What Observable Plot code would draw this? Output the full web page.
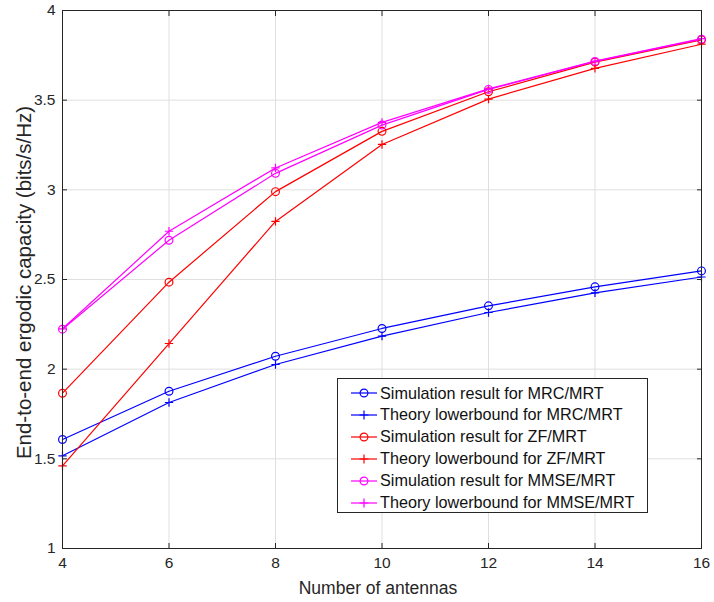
<!DOCTYPE html>
<html><head><meta charset="utf-8">
<script src="https://cdn.jsdelivr.net/npm/d3@7"></script>
<script src="https://cdn.jsdelivr.net/npm/@observablehq/plot@0.6"></script>
<style>
body{margin:0;background:#fff;font-family:"Liberation Sans",Arial,sans-serif;}
#wrap{position:relative;width:714px;height:602px;}
#legend{position:absolute;left:337px;top:378px;width:309px;height:133px;border:1px solid #262626;background:#fff;color:#111;font-size:16.2px;}
.row{position:absolute;left:0;height:22px;display:flex;align-items:center;white-space:nowrap;}
.row svg{margin-left:13px;margin-right:3px;}
</style></head><body><div id="wrap"></div>
<script>
const antennas = [4, 6, 8, 10, 12, 14, 16];
const mrcSim = [1.608, 1.877, 2.072, 2.227, 2.353, 2.459, 2.548];
const mrcTheory = [1.517, 1.814, 2.026, 2.184, 2.316, 2.425, 2.514];
const zfSim = [1.866, 2.485, 2.99, 3.326, 3.547, 3.712, 3.836];
const zfTheory = [1.461, 2.143, 2.824, 3.253, 3.506, 3.677, 3.812];
const mmseSim = [2.223, 2.719, 3.092, 3.361, 3.56, 3.716, 3.84];
const mmseTheory = [2.225, 2.769, 3.122, 3.376, 3.563, 3.718, 3.843];
const xTicks = [4, 6, 8, 10, 12, 14, 16];
const yTicks = [1, 1.5, 2, 2.5, 3, 3.5, 4];
const seriesNames = [
  "Simulation result for MRC/MRT",
  "Theory lowerbound for MRC/MRT",
  "Simulation result for ZF/MRT",
  "Theory lowerbound for ZF/MRT",
  "Simulation result for MMSE/MRT",
  "Theory lowerbound for MMSE/MRT"
];
const seriesValues = [mrcSim, mrcTheory, zfSim, zfTheory, mmseSim, mmseTheory];
const seriesColors = ["#0000ff", "#0000ff", "#ff0000", "#ff0000", "#ff00ff", "#ff00ff"];
const seriesMarkers = ["circle", "plus", "circle", "plus", "circle", "plus"];
const xLabel = "Number of antennas";
const yLabel = "End-to-end ergodic capacity (bits/s/Hz)";

const data = [];
seriesNames.forEach((name, k) => {
  seriesValues[k].forEach((v, i) => data.push({x: antennas[i], y: v, series: name, marker: seriesMarkers[k]}));
});
const circles = data.filter(d => d.marker === "circle");
const pluses = data.filter(d => d.marker === "plus");
const axisColor = "#262626";
const font = "Liberation Sans, Arial, sans-serif";

const plot = Plot.plot({
  width: 714, height: 602,
  marginLeft: 62, marginRight: 13, marginTop: 10, marginBottom: 54,
  style: {fontFamily: font, fontSize: "15px", color: axisColor, background: "#fff"},
  x: {domain: [4, 16], label: null},
  y: {domain: [1, 4], label: null},
  color: {domain: seriesNames, range: seriesColors},
  marks: [
    Plot.gridX(xTicks, {stroke: "#dfdfdf", strokeOpacity: 1}),
    Plot.gridY(yTicks, {stroke: "#dfdfdf", strokeOpacity: 1}),
    Plot.line(data, {x: "x", y: "y", z: "series", stroke: "series", strokeWidth: 1.2}),
    Plot.dot(circles, {x: "x", y: "y", stroke: "series", symbol: "circle", r: 3.9, fill: "none", strokeWidth: 1.2}),
    Plot.dot(pluses, {x: "x", y: "y", stroke: "series", symbol: "plus", r: 2.8, strokeWidth: 1.2}),
    Plot.frame({stroke: axisColor, strokeWidth: 1}),
    Plot.axisX(xTicks, {anchor: "bottom", tickSize: 0, tickPadding: 8, fontSize: 15.5, label: null, tickFormat: d => String(d)}),
    Plot.axisX(xTicks, {anchor: "bottom", tickSize: -5, label: null, tickFormat: () => "", stroke: axisColor}),
    Plot.axisX(xTicks, {anchor: "top", tickSize: -5, label: null, tickFormat: () => "", stroke: axisColor}),
    Plot.axisY(yTicks, {anchor: "left", tickSize: 0, tickPadding: 7, fontSize: 15.5, label: null, tickFormat: d => String(d)}),
    Plot.axisY(yTicks, {anchor: "left", tickSize: -5, label: null, tickFormat: () => "", stroke: axisColor}),
    Plot.axisY(yTicks, {anchor: "right", tickSize: -5, label: null, tickFormat: () => "", stroke: axisColor}),
    Plot.text([xLabel], {frameAnchor: "bottom", textAnchor: "middle", lineAnchor: "middle", dy: 40, dx: -4, fontSize: 17.5, fill: axisColor}),
    Plot.text([yLabel], {frameAnchor: "left", textAnchor: "middle", lineAnchor: "middle", rotate: -90, dy: 3, dx: -38, fontSize: 20.5, fill: axisColor})
  ]
});
const wrap = document.getElementById("wrap");
wrap.appendChild(plot);

// legend
const legend = document.createElement("div");
legend.id = "legend";
seriesNames.forEach((name, k) => {
  const row = document.createElement("div");
  row.className = "row";
  row.style.top = (3 + k * 21.9) + "px";
  const c = seriesColors[k];
  const mk = seriesMarkers[k] === "circle"
    ? `<circle cx="13" cy="6" r="3.9" fill="none" stroke="${c}" stroke-width="1.2"/>`
    : `<path d="M8.5,6H17.5M13,1.5V10.5" stroke="${c}" stroke-width="1.2"/>`;
  row.innerHTML = `<svg width="26" height="12"><line x1="0" y1="6" x2="26" y2="6" stroke="${c}" stroke-width="1.2"/>${mk}</svg><span>${name}</span>`;
  legend.appendChild(row);
});
wrap.appendChild(legend);
</script>
</body></html>
